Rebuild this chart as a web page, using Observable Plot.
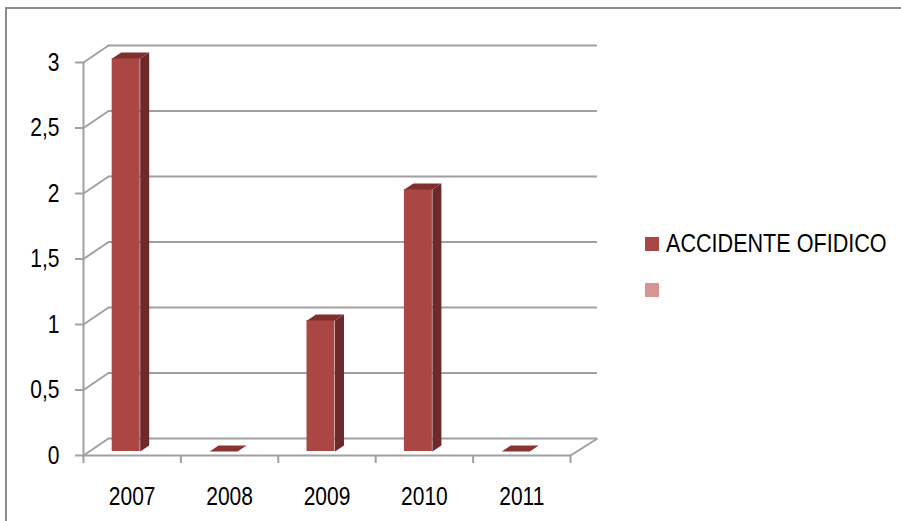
<!DOCTYPE html>
<html>
<head>
<meta charset="utf-8">
<script src="https://cdn.jsdelivr.net/npm/d3@7"></script>
<script src="https://cdn.jsdelivr.net/npm/@observablehq/plot@0.6"></script>
<style>
  html, body { margin: 0; padding: 0; background: #fff; overflow: hidden; }
  #wrap { position: relative; width: 901px; height: 521px; overflow: hidden; }
  #frame { position: absolute; left: 5px; top: 7px; width: 2000px; height: 2000px;
           border-left: 2px solid #8c8c8c; border-top: 2px solid #8c8c8c; }
  #chart { position: absolute; left: 0; top: 0; }
  .lg { position: absolute; font-family: "Liberation Sans", Arial, sans-serif;
        font-size: 26px; color: #000; white-space: nowrap;
        transform: scaleX(0.83); transform-origin: left center; }
  .sw { position: absolute; width: 14px; height: 14px; }
</style>
</head>
<body>
<div id="wrap">
  <div id="frame"></div>
  <div id="chart"></div>
  <div id="legend"></div>
</div>
<script>
const years = ["2007", "2008", "2009", "2010", "2011"];
const values = [3, 0, 1, 2, 0];
const yTicks = [0, 0.5, 1, 1.5, 2, 2.5, 3];
const seriesNames = ["ACCIDENTE OFIDICO", ""];
const seriesColors = ["#AA4643", "#D59594"];

const W = 901, H = 521, mL = 83, mR = 331, mT = 62, mB = 66;
const ux = (W - mL - mR) / years.length;
const uy = (H - mT - mB) / d3.max(yTicks);
const px = p => p / ux, py = p => p / uy;

const grid = "#a0a0a0";
const frontC = "#AA4643", sideC = "#6E2A2A", topC = "#7F302E", flatC = "#8A3432";
const WX = 25, WY = 17;      // back-wall depth offset (px)
const BX = 9, BY = 6;        // bar depth (px)
const NARROW = 0.84;         // horizontal condensing of text (narrow face)

const rows = years.map((year, i) => ({year, value: values[i], i}));
const xl = d => d.i + 0.5 - px(20), xr = d => d.i + 0.5 + px(8);

const polys = [];
rows.forEach(d => {
  if (d.value > 0) {
    [[xr(d), 0], [xr(d) + px(BX), py(BY)], [xr(d) + px(BX), d.value + py(BY)], [xr(d), d.value]]
      .forEach(([x, y]) => polys.push({id: "s" + d.i, x, y, color: sideC}));
  }
  const c = d.value > 0 ? topC : flatC;
  [[xl(d), d.value], [xr(d), d.value], [xr(d) + px(BX), d.value + py(BY)], [xl(d) + px(BX), d.value + py(BY)]]
    .forEach(([x, y]) => polys.push({id: "t" + d.i, x, y, color: c}));
});

const plot = Plot.plot({
  width: W, height: H,
  marginLeft: mL, marginRight: mR, marginTop: mT, marginBottom: mB,
  style: {fontFamily: '"Liberation Sans", Arial, sans-serif', background: "transparent", overflow: "visible"},
  x: {domain: [0, years.length]},
  y: {domain: [0, d3.max(yTicks)]},
  marks: [
    Plot.ruleY(yTicks, {x1: 0, x2: years.length + px(2), dx: WX, dy: -WY, stroke: grid, strokeWidth: 2}),
    Plot.link(yTicks, {x1: 0, y1: d => d, x2: px(WX), y2: d => d + py(WY), stroke: grid, strokeWidth: 2}),
    Plot.link([0], {x1: years.length, y1: 0, x2: years.length + px(WX + 2), y2: py(WY), stroke: grid, strokeWidth: 2}),
    Plot.ruleX([0], {y1: 0, y2: d3.max(yTicks), stroke: grid, strokeWidth: 2}),
    Plot.ruleY([0], {x1: 0, x2: years.length, stroke: grid, strokeWidth: 2}),
    Plot.axisY({ticks: yTicks, tickSize: 8, tickPadding: 16, tickFormat: d => String(d).replace(".", ","),
                stroke: grid, strokeWidth: 2, fill: "#000", fontSize: 25, label: null}),
    Plot.axisX({ticks: d3.range(years.length + 1), tickSize: 8, tickFormat: () => "",
                stroke: grid, strokeWidth: 2, label: null}),
    Plot.text(rows, {x: d => d.i + 0.5, y: 0, text: "year", dy: 41, fontSize: 25, fill: "#000"}),
    Plot.rect(rows.filter(d => d.value > 0), {x1: xl, x2: xr, y1: 0, y2: "value", dy: -4, fill: frontC}),
    Plot.line(polys, {x: "x", y: "y", z: "id", fill: "color", stroke: "none", curve: "linear-closed", dy: -4})
  ]
});
// condense glyphs horizontally around each text's anchor point
plot.querySelectorAll("text").forEach(t => {
  const xa = t.getAttribute("x");
  if (xa !== null && !isNaN(+xa)) t.setAttribute("x", +xa / NARROW);
  const tr = t.getAttribute("transform") || "";
  t.setAttribute("transform", `${tr} scale(${NARROW},1)`);
});
document.getElementById("chart").appendChild(plot);

const lg = document.getElementById("legend");
seriesNames.forEach((name, k) => {
  const sw = document.createElement("div");
  sw.className = "sw";
  sw.style.left = "645px"; sw.style.top = (237 + k * 46) + "px";
  sw.style.background = seriesColors[k];
  lg.appendChild(sw);
  if (name) {
    const t = document.createElement("div");
    t.className = "lg";
    t.style.left = "666px"; t.style.top = (228 + k * 46) + "px";
    t.textContent = name;
    lg.appendChild(t);
  }
});
</script>
</body>
</html>
